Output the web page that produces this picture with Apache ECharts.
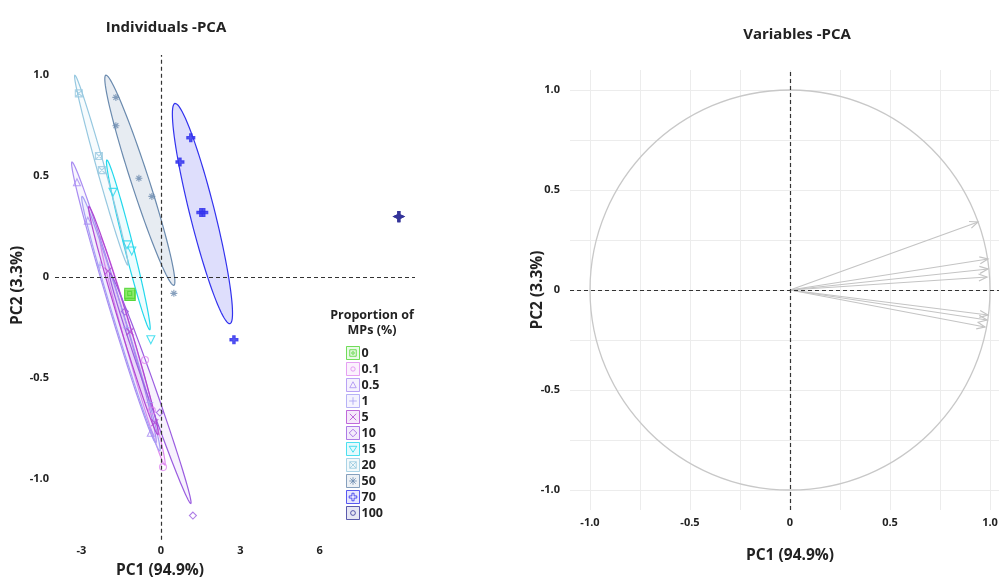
<!DOCTYPE html>
<html>
<head>
<meta charset="utf-8">
<script src="https://cdn.jsdelivr.net/npm/echarts@6/dist/echarts.min.js"></script>
<style>
  html, body { margin: 0; padding: 0; background: #fff; }
  #chart { width: 999px; height: 577px; }
</style>
</head>
<body>
<div id="chart"></div>
<script>
// groups (proportion of MPs, %)
const groups = ['0', '0.1', '0.5', '1', '5', '10', '15', '20', '50', '70', '100'];
const groupColors = ['#4fd432', '#e08af0', '#a98cf2', '#a6a0f4', '#b046d2', '#9a5ce0', '#22d8ec', '#96c8e0', '#6a8aae', '#3232ee', '#34349a'];

// individuals, [PC1, PC2] per group
const pc0 = [[-1.17, -0.09], [-1.16, -0.09], [-1.18, -0.08]];
const pc01 = [[-0.60, -0.41], [-0.34, -0.66], [0.08, -0.94]];
const pc05 = [[-3.17, 0.47], [-2.76, 0.28], [-0.38, -0.77]];
const pc1 = [[-2.30, 0.06], [-1.30, -0.25], [-0.42, -0.62]];
const pc5 = [[-2.00, 0.03], [-1.17, -0.27], [-0.23, -0.72]];
const pc10 = [[-1.36, -0.17], [-0.04, -0.67], [1.21, -1.18]];
const pc15 = [[-1.81, 0.42], [-1.28, 0.16], [-1.10, 0.13], [-0.38, -0.31]];
const pc20 = [[-3.10, 0.91], [-2.34, 0.60], [-2.23, 0.53]];
const pc50 = [[-1.70, 0.89], [-1.70, 0.75], [-0.83, 0.49], [-0.34, 0.40], [0.49, -0.08]];
const pc70 = [[1.13, 0.69], [0.72, 0.57], [1.51, 0.32], [1.62, 0.32], [2.76, -0.31]];
const pc100 = [[8.99, 0.30], [8.99, 0.30], [8.99, 0.30]];
const groupPoints = [pc0, pc01, pc05, pc1, pc5, pc10, pc15, pc20, pc50, pc70, pc100];

// confidence ellipses: [group index, tip1 x, tip1 y, tip2 x, tip2 y, minor/major ratio]
const ellipses = [
  [1, -2.30, 0.20, 0.15, -0.93, 0.04],
  [2, -3.36, 0.57, -0.19, -0.82, 0.04],
  [3, -2.98, 0.40, -0.04, -0.86, 0.04],
  [4, -2.72, 0.35, -0.11, -0.78, 0.04],
  [5, -1.93, 0.02, 1.13, -1.12, 0.04],
  [6, -2.04, 0.58, -0.42, -0.26, 0.05],
  [7, -3.25, 1.00, -1.25, 0.06, 0.04],
  [8, -2.08, 1.00, 0.49, -0.04, 0.08],
  [9, 0.53, 0.86, 2.61, -0.23, 0.11]
];

// variables: arrow ends [PC1, PC2]
const varArrows = [[0.94, 0.34], [0.99, 0.155], [0.99, 0.105], [0.985, 0.065], [0.99, -0.125], [0.985, -0.15], [0.975, -0.185]];
const corCircle = [[0, 0, 1]];

// tick labels
const indXTicks = [-3, 0, 3, 6];
const pcYTicks = [-1, -0.5, 0, 0.5, 1];
const varXTicks = [-1, -0.5, 0, 0.5, 1];
const varGridTicks = [-1, -0.75, -0.5, -0.25, 0, 0.25, 0.5, 0.75, 1];

const groupSymbols = [
  'path://M0,0H10V10H0ZM3,3H7V7H3Z',
  'circle',
  'triangle',
  'path://M5,0V10M0,5H10',
  'path://M0,0L10,10M10,0L0,10',
  'diamond',
  'path://M0,0H10L5,9Z',
  'path://M0,0H10V10H0ZM0,0L10,10M10,0L0,10',
  'path://M5,0V10M0,5H10M1.5,1.5L8.5,8.5M8.5,1.5L1.5,8.5',
  'path://M3.5,0H6.5V3.5H10V6.5H6.5V10H3.5V6.5H0V3.5H3.5Z',
  'path://M4,0H6V3.2L10,5L6,6.8V10H4V6.8L0,5L4,3.2Z'
];
const groupSizes = [10, 7, 7, 7, 7, 7, 8, 7, 7, 8, 10];
const groupFilled = [true, false, false, false, false, false, false, false, false, true, true];
const legendInner = [
  'M3,3H9V9H3ZM5,5H7V7H5Z',
  'M6,4A2,2 0 1,1 5.99,4Z',
  'M6,3L9,8.5H3Z',
  'M6,2.5V9.5M2.5,6H9.5',
  'M3,3L9,9M9,3L3,9',
  'M6,2.5L9.5,6L6,9.5L2.5,6Z',
  'M2.5,3.5H9.5L6,9Z',
  'M3,3H9V9H3ZM3,3L9,9M9,3L3,9',
  'M6,2.5V9.5M2.5,6H9.5M3.5,3.5L8.5,8.5M8.5,3.5L3.5,8.5',
  'M5,2.5H7V5H9.5V7H7V9.5H5V7H2.5V5H5Z',
  'M6,3.8A2.2,2.2 0 1,1 5.99,3.8Z'
];

function tint(hex, a) {
  const n = parseInt(hex.slice(1), 16);
  return 'rgba(' + (n >> 16) + ',' + ((n >> 8) & 255) + ',' + (n & 255) + ',' + a + ')';
}

const FONT = '"Open Sans", "Noto Sans", sans-serif';
const labelStyle = { fontFamily: FONT, fontWeight: 'bold', fontSize: 11, color: '#222' };
const nameStyle = { fontFamily: FONT, fontWeight: 'bold', fontSize: 15.5, color: '#222' };
const titleStyle = { fontFamily: FONT, fontWeight: 'bold', fontSize: 15, color: '#222' };
const fmt = v => (v === 0 ? '0' : Number(v).toFixed(1));

// 椭圆
function renderEllipse(params, api) {
  const color = groupColors[api.value(0)];
  const p1 = api.coord([api.value(1), api.value(2)]);
  const p2 = api.coord([api.value(3), api.value(4)]);
  const ratio = api.value(5);
  const cx = (p1[0] + p2[0]) / 2, cy = (p1[1] + p2[1]) / 2;
  const dx = (p2[0] - p1[0]) / 2, dy = (p2[1] - p1[1]) / 2;
  const a = Math.hypot(dx, dy), b = a * ratio;
  const ux = dx / a, uy = dy / a;
  const pts = [];
  for (let i = 0; i < 90; i++) {
    const t = i / 90 * Math.PI * 2;
    const c = Math.cos(t) * a, s = Math.sin(t) * b;
    pts.push([cx + c * ux - s * uy, cy + c * uy + s * ux]);
  }
  const heavy = api.value(0) >= 8;
  return {
    type: 'polygon',
    shape: { points: pts },
    style: { fill: tint(color, heavy ? 0.16 : 0.08), stroke: color, lineWidth: 1.2 }
  };
}

// 箭头
function renderArrow(params, api) {
  const o = api.coord([0, 0]);
  const t = api.coord([api.value(0), api.value(1)]);
  const ang = Math.atan2(t[1] - o[1], t[0] - o[0]);
  const len = 9, spread = 0.4;
  const a1 = [t[0] - len * Math.cos(ang - spread), t[1] - len * Math.sin(ang - spread)];
  const a2 = [t[0] - len * Math.cos(ang + spread), t[1] - len * Math.sin(ang + spread)];
  const st = { stroke: '#c4c4c4', lineWidth: 1.2, fill: null };
  return {
    type: 'group',
    children: [
      { type: 'line', shape: { x1: o[0], y1: o[1], x2: t[0], y2: t[1] }, style: st },
      { type: 'polyline', shape: { points: [a1, t, a2] }, style: st }
    ]
  };
}

function renderCircle(params, api) {
  const c = api.coord([api.value(0), api.value(1)]);
  const r = api.size([api.value(2), api.value(2)]);
  return {
    type: 'ellipse',
    shape: { cx: c[0], cy: c[1], rx: r[0], ry: r[1] },
    style: { fill: null, stroke: '#c8c8c8', lineWidth: 1.3 }
  };
}

const dashLine = {
  silent: true,
  symbol: 'none',
  label: { show: false },
  lineStyle: { type: [4, 3], color: '#333', width: 1.2 },
  data: [{ xAxis: 0 }, { yAxis: 0 }]
};

const scatterSeries = groups.map((g, i) => ({
  name: g,
  type: 'scatter',
  xAxisIndex: 0,
  yAxisIndex: 0,
  symbol: groupSymbols[i],
  symbolSize: groupSizes[i],
  z: 3,
  itemStyle: {
    color: groupFilled[i] ? (i === 0 ? '#8de86c' : groupColors[i]) : 'rgba(255,255,255,0)',
    borderColor: groupColors[i],
    borderWidth: 1.1
  },
  data: groupPoints[i]
}));

const chart = echarts.init(document.getElementById('chart'));
chart.setOption({
  animation: false,
  backgroundColor: '#fff',
  title: [
    { text: 'Individuals -PCA', left: 161, top: 15, textAlign: 'center', textStyle: titleStyle },
    { text: 'Variables -PCA', left: 792, top: 22, textAlign: 'center', textStyle: titleStyle },
    { text: 'Proportion of\nMPs (%)', left: 367, top: 303, textAlign: 'center',
      textStyle: { fontFamily: FONT, fontWeight: 'bold', fontSize: 12.5, color: '#222', lineHeight: 15 } }
  ],
  legend: {
    orient: 'vertical',
    left: 341,
    top: 341,
    itemWidth: 13,
    itemHeight: 13,
    itemGap: 2,
    selectedMode: false,
    textStyle: { fontFamily: FONT, fontWeight: 'bold', fontSize: 12.5, color: '#222', padding: [0, 0, 0, -3] },
    data: groups.map((g, i) => ({
      name: g,
      icon: 'path://M0,0H12V12H0Z' + legendInner[i],
      itemStyle: { color: tint(groupColors[i], 0.15), borderColor: groupColors[i], borderWidth: 1 }
    }))
  },
  grid: [
    { left: 55, top: 55, width: 360, height: 484.8, outerBoundsMode: 'none' },
    { left: 570, top: 70, width: 440, height: 440, outerBoundsMode: 'none' }
  ],
  xAxis: [
    {
      gridIndex: 0, type: 'value', min: -4.0, max: 9.6,
      axisLine: { show: false }, axisTick: { show: false }, splitLine: { show: false },
      axisLabel: Object.assign({ customValues: indXTicks, margin: 6 }, labelStyle),
      name: 'PC1 (94.9%)', nameLocation: 'middle', nameGap: 23,
      nameTextStyle: Object.assign({ padding: [0, 150, 0, 0] }, nameStyle)
    },
    {
      gridIndex: 1, type: 'value', min: -1.1, max: 1.1,
      axisLine: { show: false },
      axisTick: { show: false, customValues: varGridTicks },
      splitLine: { show: true, lineStyle: { color: '#ececec', width: 1 } },
      axisLabel: Object.assign({ customValues: varXTicks, formatter: fmt, margin: 7 }, labelStyle),
      name: 'PC1 (94.9%)', nameLocation: 'middle', nameGap: 38,
      nameTextStyle: nameStyle
    }
  ],
  yAxis: [
    {
      gridIndex: 0, type: 'value', min: -1.3, max: 1.1,
      axisLine: { show: false }, axisTick: { show: false }, splitLine: { show: false },
      axisLabel: Object.assign({ customValues: pcYTicks, formatter: fmt, margin: 6 }, labelStyle),
      name: 'PC2 (3.3%)', nameLocation: 'middle', nameGap: 28, nameRotate: 90,
      nameTextStyle: Object.assign({ padding: [0, 0, 0, 24] }, nameStyle)
    },
    {
      gridIndex: 1, type: 'value', min: -1.1, max: 1.1,
      axisLine: { show: false },
      axisTick: { show: false, customValues: varGridTicks },
      splitLine: { show: true, lineStyle: { color: '#ececec', width: 1 } },
      axisLabel: Object.assign({ customValues: pcYTicks, formatter: fmt, margin: 10 }, labelStyle),
      name: 'PC2 (3.3%)', nameLocation: 'middle', nameGap: 24, nameRotate: 90,
      nameMoveOverlap: false,
      nameTextStyle: nameStyle
    }
  ],
  series: [
    {
      name: 'ellipses', type: 'custom', xAxisIndex: 0, yAxisIndex: 0, z: 2,
      renderItem: renderEllipse,
      encode: { x: [1, 3], y: [2, 4] },
      data: ellipses,
      markLine: dashLine
    },
    ...scatterSeries,
    {
      name: 'circle', type: 'custom', xAxisIndex: 1, yAxisIndex: 1, z: 2,
      renderItem: renderCircle,
      encode: { x: 0, y: 1 },
      data: corCircle,
      markLine: dashLine
    },
    {
      name: 'variables', type: 'custom', xAxisIndex: 1, yAxisIndex: 1, z: 3,
      renderItem: renderArrow,
      encode: { x: 0, y: 1 },
      data: varArrows
    }
  ]
});
</script>
</body>
</html>
